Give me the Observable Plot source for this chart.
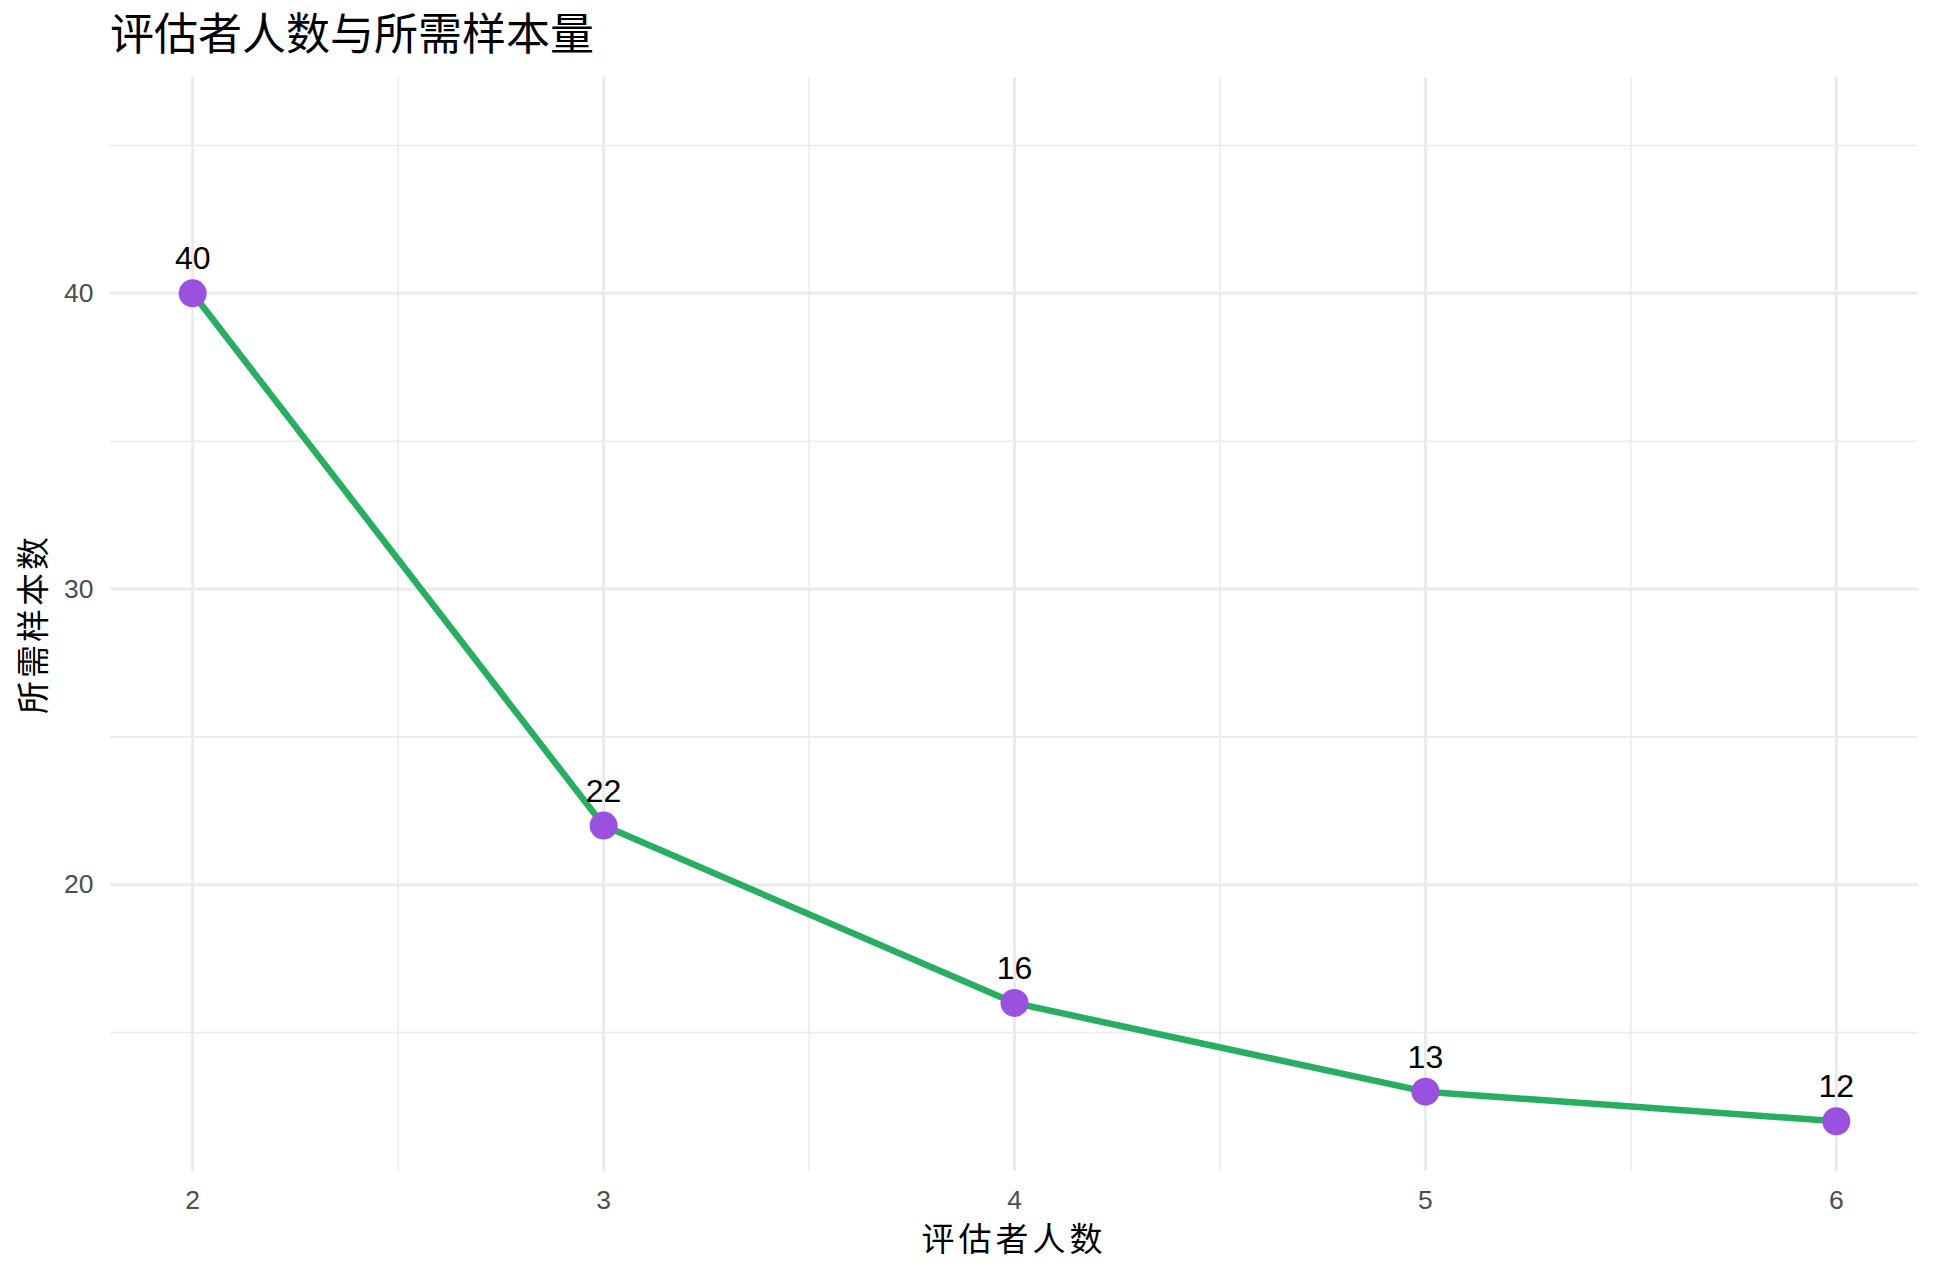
<!DOCTYPE html>
<html>
<head>
<meta charset="utf-8">
<script src="https://cdn.jsdelivr.net/npm/d3@7"></script>
<script src="https://cdn.jsdelivr.net/npm/@observablehq/plot@0.6"></script>
<style>
  html, body { margin: 0; padding: 0; background: #fff; }
  #wrap { position: relative; width: 1936px; height: 1276px; overflow: hidden; }
  #title { position: absolute; left: 110px; top: 6px; font-family: "Noto Sans CJK SC", sans-serif; font-size: 44px; line-height: 50px; letter-spacing: 0px; color: #000; white-space: nowrap; }
  #chart { position: absolute; left: 0; top: 64px; }
</style>
</head>
<body>
<div id="wrap">
  <div id="title">评估者人数与所需样本量</div>
  <div id="chart"></div>
</div>
<script>
const evaluators = [2, 3, 4, 5, 6];
const samples = [40, 22, 16, 13, 12];
const xTicks = [2, 3, 4, 5, 6];
const xMinor = [2.5, 3.5, 4.5, 5.5];
const yTicks = [20, 30, 40];
const yMinor = [15, 25, 35, 45];
const xLabel = "评估者人数";
const yLabel = "所需样本数";

const data = evaluators.map((e, i) => ({ e, s: samples[i] }));

const plot = Plot.plot({
  width: 1936,
  height: 1212,
  marginTop: 13,
  marginBottom: 105,
  marginLeft: 110,
  marginRight: 18,
  style: { fontFamily: "'Liberation Sans', Arial, sans-serif", background: "#fff" },
  x: { domain: [1.8, 6.2], axis: null },
  y: { domain: [10.3, 47.3], axis: null },
  marks: [
    Plot.ruleX(xMinor, { stroke: "#EBEBEB", strokeWidth: 1.6 }),
    Plot.ruleY(yMinor, { stroke: "#EBEBEB", strokeWidth: 1.6 }),
    Plot.ruleX(xTicks, { stroke: "#EBEBEB", strokeWidth: 3 }),
    Plot.ruleY(yTicks, { stroke: "#EBEBEB", strokeWidth: 3 }),
    Plot.text(xTicks, { x: d => d, frameAnchor: "bottom", lineAnchor: "top", dy: 19, text: d => String(d), fontSize: "26.5px", fill: "#4D4D4D" }),
    Plot.text(yTicks, { y: d => d, frameAnchor: "left", textAnchor: "end", dx: -17, text: d => String(d), fontSize: "26.5px", fill: "#4D4D4D" }),
    Plot.line(data, { x: "e", y: "s", stroke: "#27AE60", strokeWidth: 6.5 }),
    Plot.dot(data, { x: "e", y: "s", r: 14, fill: "#9B51E0", stroke: "none" }),
    Plot.text(data, { x: "e", y: "s", text: d => String(d.s), dy: -24, lineAnchor: "bottom", fontSize: 32, fill: "#000" })
  ]
});
document.getElementById("chart").appendChild(plot);

const svg = d3.select(plot);
svg.append("text")
  .attr("x", (110 + 1918) / 2)
  .attr("y", 1237 - 64)
  .attr("text-anchor", "middle")
  .attr("dominant-baseline", "central")
  .style("font-family", "'Noto Sans CJK SC', sans-serif")
  .style("font-size", "33px")
  .style("letter-spacing", "4px")
  .attr("fill", "#000")
  .text(xLabel);
svg.append("text")
  .attr("transform", `translate(31, ${624 - 64}) rotate(-90)`)
  .attr("text-anchor", "middle")
  .attr("dominant-baseline", "central")
  .style("font-family", "'Noto Sans CJK SC', sans-serif")
  .style("font-size", "33px")
  .style("letter-spacing", "3px")
  .attr("fill", "#000")
  .text(yLabel);
</script>
</body>
</html>
